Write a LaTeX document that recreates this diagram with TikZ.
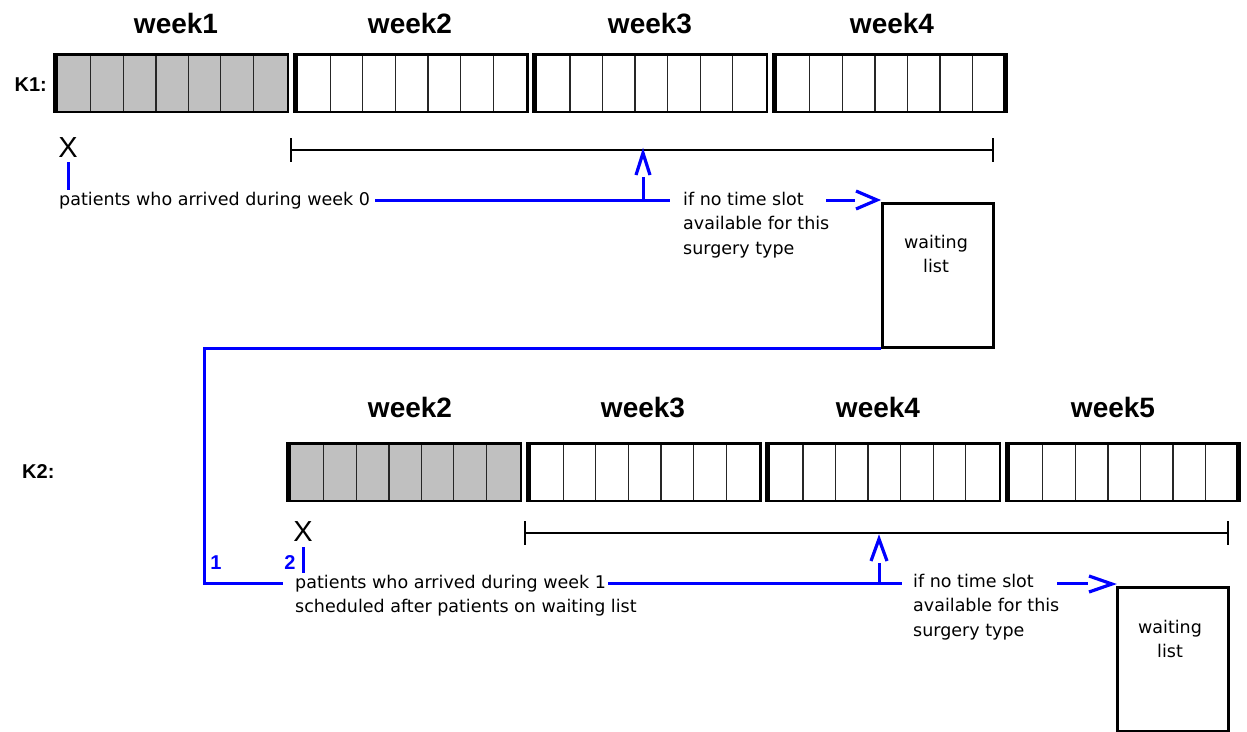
\documentclass[tikz,border=0pt]{standalone}
\usepackage{fontspec}
\setmainfont{DejaVu Sans}
\newfontfamily\arialf{Liberation Sans}
\usetikzlibrary{calc}
\definecolor{cellgray}{RGB}{192,192,192}
\newcommand\wkblock[4]{%
  \node[blkbg, fill=#4] (#1) at (#2+118,#3+30) {};
  \foreach \k in {1,...,6}{%
    \pgfmathsetmacro\xx{#2+5+\k*228/7}%
    \pgfmathsetmacro\lw{\k==3 ? 1.8 : 1.1}%
    \draw[cell, line width=\lw] (\xx,#3) -- (\xx,#3+60);
  }
  \draw[line width=2.5] (#2+1.25,#3+1.25) rectangle (#2+236-1.25,#3+60-1.25);
  \fill (#2,#3) rectangle (#2+5,#3+60);
}
\begin{document}
\begin{tikzpicture}[x=1pt,y=-1pt,
  wk/.style={font=\arialf\bfseries\fontsize{28}{30}\selectfont, anchor=base, inner sep=0},
  klab/.style={font=\arialf\bfseries\fontsize{20}{22}\selectfont, inner sep=0},
  xmark/.style={font=\arialf\fontsize{29}{31}\selectfont, inner sep=0},
  lbl/.style={font=\fontsize{17.5}{24.5}\selectfont, inner sep=0, align=left},
  num/.style={font=\arialf\bfseries\fontsize{20}{22}\selectfont, text=blue, inner sep=0},
  blueln/.style={draw=blue, line width=3},
  chev/.style={draw=blue, line width=3.2, line join=miter},
  span/.style={line width=2},
  tick/.style={line width=2.5},
  wbox/.style={draw, line width=3, minimum width=111, minimum height=144, inner sep=0, anchor=north west},
  blkbg/.style={draw=none, minimum width=236, minimum height=60, inner sep=0},
  cell/.style={draw=black!85},
]
\useasboundingbox[fill=white] (0,0) rectangle (1247,731);

% ---------- K1 ----------
\node[wk] (w11) at (176,33) {week1};
\node[wk] (w12) at (410,33) {week2};
\node[wk] (w13) at (650,33) {week3};
\node[wk] (w14) at (892,33) {week4};
\node[klab, anchor=base east] (k1) at (47,91) {K1:};
\wkblock{b11}{53}{53}{cellgray}
\wkblock{b12}{292.7}{53}{white}
\wkblock{b13}{532.4}{53}{white}
\wkblock{b14}{772.1}{53}{white}
\fill (1003,53) rectangle (1008.1,113);

\node[xmark] (x1) at (68,148) {X};
\coordinate (s1l) at (291,150);
\coordinate (s1r) at (993,150);
\draw[span] (s1l) -- (s1r);
\draw[tick] ([yshift=12]s1l) -- ([yshift=-12]s1l);
\draw[tick] ([yshift=12]s1r) -- ([yshift=-12]s1r);

\node[lbl, anchor=base west] (t1) at (59,205) {patients who arrived during week 0};
\draw[blueln] (68,162) -- (68,190);
\node[lbl, anchor=base west] (i1) at (683,254) {if no time slot\\available for this\\surgery type};
\node[wbox] (wl1) at (880.5,201.5) {};
\node[lbl, align=center, anchor=base] (wt1) at (936,272.5) {waiting\\list};

\coordinate (a1) at (375,200);
\coordinate (j1) at (643,200);
\coordinate (e1) at (670,200);
\draw[blueln] (a1) -- (e1);
\draw[blueln] (j1) -- (643,177);
\draw[chev] (636,175) -- (643,153) -- (650,175);
\draw[blueln] (826,200) -- (855,200);
\draw[chev] (856,191) -- (877,200) -- (856,209);

% connector waiting list -> K2
\coordinate (c2) at (204,583);
\coordinate (c3) at (283,583);
\draw[blueln] (wl1.south west) -| (c2) -- (c3);

% ---------- K2 ----------
\node[wk] (w22) at (410,417) {week2};
\node[wk] (w23) at (643,417) {week3};
\node[wk] (w24) at (878,417) {week4};
\node[wk] (w25) at (1113,417) {week5};
\node[klab, anchor=base west] (k2) at (22,478) {K2:};
\wkblock{b22}{286}{442}{cellgray}
\wkblock{b23}{525.7}{442}{white}
\wkblock{b24}{765.4}{442}{white}
\wkblock{b25}{1005.1}{442}{white}
\fill (1236.1,442) rectangle (1241.1,502);

\node[xmark] (x2) at (303,532) {X};
\coordinate (s2l) at (525,533);
\coordinate (s2r) at (1228,533);
\draw[span] (s2l) -- (s2r);
\draw[tick] ([yshift=12]s2l) -- ([yshift=-12]s2l);
\draw[tick] ([yshift=12]s2r) -- ([yshift=-12]s2r);

\draw[blueln] (303,547) -- (303,573);
\node[num] (n1) at (216,563) {1};
\node[num] (n2) at (290,563) {2};

\node[lbl, anchor=base west] (t2) at (295,612.5) {patients who arrived during week 1\\scheduled after patients on waiting list};
\node[lbl, anchor=base west] (i2) at (913,636) {if no time slot\\available for this\\surgery type};
\node[wbox] (wl2) at (1115.5,585.5) {};
\node[lbl, align=center, anchor=base] (wt2) at (1170,657.5) {waiting\\list};

\coordinate (a2) at (608,583);
\coordinate (j2) at (879,583);
\coordinate (e2) at (902,583);
\draw[blueln] (a2) -- (e2);
\draw[blueln] (j2) -- (879,563);
\draw[chev] (871,561) -- (879,539) -- (887,561);
\draw[blueln] (1057,583) -- (1088,583);
\draw[chev] (1089,576) -- (1112,584) -- (1089,592);
\end{tikzpicture}
\end{document}
